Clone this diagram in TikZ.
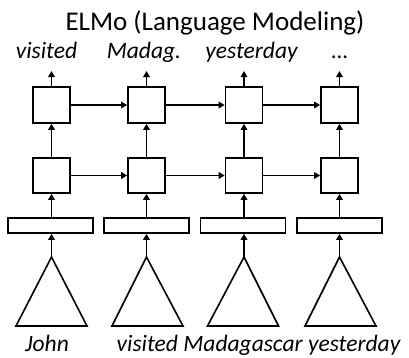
\documentclass[tikz,border=0pt]{standalone}
\usepackage{fontspec}
\setmainfont{Carlito}
\usetikzlibrary{arrows.meta}
\begin{document}
\begin{tikzpicture}[x=1pt,y=-1pt,
  cell/.style={draw,line width=1.6pt,minimum width=37pt,minimum height=36pt,inner sep=0pt},
  emb/.style={draw,line width=1.6pt,minimum width=85pt,minimum height=15pt,inner sep=0pt},
  tri/.style={draw,line width=1.6pt,line join=miter},
  conn/.style={line width=1.6pt,-{Triangle[length=6pt,width=6.5pt]}},
  word/.style={font=\fontsize{23.5}{26}\selectfont\itshape,anchor=base,inner sep=0pt},
  ttl/.style={font=\fontsize{27}{30}\selectfont,anchor=base,inner sep=0pt}]
\useasboundingbox (0,0) rectangle (409,357);
\node[ttl] (title) at (215,30) {ELMo (Language Modeling)};
\foreach \i/\x/\ex/\tx in {1/51.5/50.5/51.5, 2/146.5/146.5/147.5, 3/244/243/243, 4/339.5/339.5/340.5}{
  \node[cell] (t\i) at (\x,105) {};
  \node[cell,minimum height=35pt] (b\i) at (\x,175.5) {};
  \node[emb] (e\i) at (\ex,225.5) {};
  \coordinate (a\i) at (\x,257);
  \coordinate (o\i) at (\x,71);
  \draw[tri] (a\i) -- (\tx-35.5,326) -- (\tx+35.5,326) -- cycle;
  \draw[conn] (a\i) -- (a\i |- e\i.south);
  \draw[conn] (b\i.south |- e\i.north) -- (b\i.south);
  \draw[conn] (b\i) -- (t\i);
  \draw[conn] (t\i) -- (o\i);
}
\foreach \i/\j in {1/2,2/3,3/4}{
  \draw[conn] (t\i) -- (t\j);
  \draw[conn] (b\i) -- (b\j);
}
\node[word] (w1) at (46.5,58) {visited};
\node[word] (w2) at (144,58) {Madag.};
\node[word] (w3) at (251.5,58) {yesterday};
\node[word] (w4) at (340,58) {\dots};
\node[word] (x1) at (47,351) {John};
\node[word] (x2) at (258.5,351) {visited Madagascar yesterday};
\end{tikzpicture}
\end{document}
